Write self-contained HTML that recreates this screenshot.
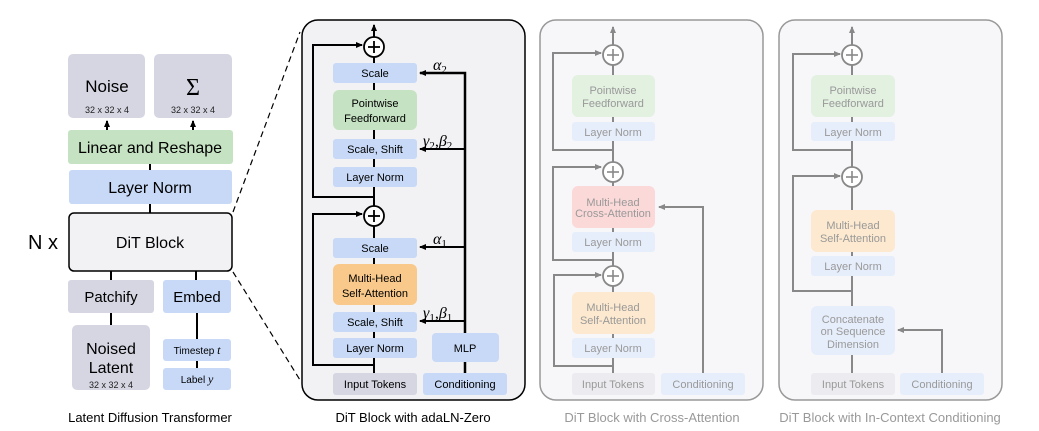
<!DOCTYPE html>
<html><head><meta charset="utf-8"><style>
html,body{margin:0;padding:0;background:#fff;}
svg{display:block;font-family:"Liberation Sans",sans-serif;}
</style></head><body>
<svg width="1039" height="431" viewBox="0 0 1039 431" xmlns="http://www.w3.org/2000/svg">
<defs>
<marker id="ab" markerWidth="8" markerHeight="8" refX="6" refY="4" orient="auto" markerUnits="userSpaceOnUse"><path d="M0,1 L7,4 L0,7 z" fill="#000"/></marker>
<marker id="ag" markerWidth="8" markerHeight="8" refX="6" refY="4" orient="auto" markerUnits="userSpaceOnUse"><path d="M0,1 L7,4 L0,7 z" fill="#888"/></marker>
</defs>

<!-- LEFT -->
<g stroke="#000" stroke-width="2">
<line x1="107" y1="130" x2="107" y2="121" marker-end="url(#ab)"/>
<line x1="193" y1="130" x2="193" y2="121" marker-end="url(#ab)"/>
<line x1="150" y1="164" x2="150" y2="170"/>
<line x1="150" y1="204" x2="150" y2="213"/>
<line x1="111" y1="271" x2="111" y2="280"/>
<line x1="196" y1="271" x2="196" y2="280"/>
<line x1="111" y1="313" x2="111" y2="325"/>
<line x1="197" y1="313" x2="197" y2="339"/>
<line x1="197" y1="361" x2="197" y2="368"/>
</g>
<rect x="68" y="54" width="77" height="64" rx="5" fill="#d5d6e2"/>
<rect x="154" y="54" width="78" height="64" rx="5" fill="#d5d6e2"/>
<text x="107" y="92" font-size="17" text-anchor="middle">Noise</text>
<text x="107" y="113" font-size="9" text-anchor="middle" fill="#222">32 x 32 x 4</text>
<text x="193" y="95" font-size="24" text-anchor="middle" font-family="Liberation Serif,serif">Σ</text>
<text x="193" y="113" font-size="9" text-anchor="middle" fill="#222">32 x 32 x 4</text>
<rect x="68" y="130" width="165" height="34" rx="3" fill="#c5e3c2"/>
<text x="150" y="153" font-size="16" text-anchor="middle">Linear and Reshape</text>
<rect x="69" y="170" width="163" height="34" rx="3" fill="#c7d9f7"/>
<text x="150" y="193" font-size="16" text-anchor="middle">Layer Norm</text>
<rect x="69" y="213" width="163" height="58" rx="5" fill="#f2f2f4" stroke="#000" stroke-width="1.5"/>
<text x="150" y="248" font-size="16" text-anchor="middle">DiT Block</text>
<text x="28" y="249" font-size="20">N x</text>
<rect x="68" y="280" width="86" height="33" rx="3" fill="#d5d6e2"/>
<text x="111" y="302" font-size="15" text-anchor="middle">Patchify</text>
<rect x="163" y="280" width="68" height="33" rx="3" fill="#c7d9f7"/>
<text x="197" y="302" font-size="15" text-anchor="middle">Embed</text>
<rect x="72" y="325" width="78" height="65" rx="5" fill="#d5d6e2"/>
<text x="111" y="354" font-size="16" text-anchor="middle">Noised</text>
<text x="111" y="373" font-size="16" text-anchor="middle">Latent</text>
<text x="111" y="388" font-size="9" text-anchor="middle" fill="#222">32 x 32 x 4</text>
<rect x="163" y="339" width="68" height="22" rx="3" fill="#c7d9f7"/>
<text x="197" y="354" font-size="10" text-anchor="middle">Timestep <tspan font-family="Liberation Serif,serif" font-style="italic" font-size="12">t</tspan></text>
<rect x="163" y="368" width="68" height="22" rx="3" fill="#c7d9f7"/>
<text x="197" y="383" font-size="10" text-anchor="middle">Label <tspan font-family="Liberation Serif,serif" font-style="italic" font-size="12">y</tspan></text>
<text x="150" y="422" font-size="13" text-anchor="middle">Latent Diffusion Transformer</text>
<line x1="233" y1="212" x2="300" y2="32" stroke="#000" stroke-width="1.2" stroke-dasharray="6,4"/>
<line x1="233" y1="272" x2="300" y2="380" stroke="#000" stroke-width="1.2" stroke-dasharray="6,4"/>

<!-- MIDDLE adaLN -->
<rect x="302" y="20" width="223" height="380" rx="16" fill="#f2f2f4" stroke="#000" stroke-width="1.5"/>
<g stroke="#000" stroke-width="2" fill="none">
<line x1="374" y1="37" x2="374" y2="25" marker-end="url(#ab)"/>
<line x1="374" y1="57" x2="374" y2="373"/>
<polyline points="374,197 313,197 313,45 362,45" marker-end="url(#ab)"/>
<polyline points="374,365 313,365 313,214 362,214" marker-end="url(#ab)"/>
<polyline points="465,373 465,73 420,73" stroke-width="2.5" marker-end="url(#ab)"/>
<polyline points="465,149 420,149" marker-end="url(#ab)"/>
<polyline points="465,247 420,247" marker-end="url(#ab)"/>
<polyline points="465,321 420,321" marker-end="url(#ab)"/>
</g>
<g fill="#fff" stroke="#000" stroke-width="1.8">
<circle cx="374" cy="47" r="10"/><circle cx="374" cy="216" r="10"/>
</g>
<g stroke="#000" stroke-width="1.8">
<line x1="368" y1="47" x2="380" y2="47"/><line x1="374" y1="41" x2="374" y2="53"/>
<line x1="368" y1="216" x2="380" y2="216"/><line x1="374" y1="210" x2="374" y2="222"/>
</g>
<g font-size="11" text-anchor="middle">
<rect x="333" y="63" width="84" height="20" rx="3" fill="#c7d9f7"/><text x="375" y="77">Scale</text>
<rect x="333" y="90" width="84" height="40" rx="6" fill="#c5e3c2"/><text x="375" y="107">Pointwise</text><text x="375" y="122">Feedforward</text>
<rect x="333" y="139" width="84" height="20" rx="3" fill="#c7d9f7"/><text x="375" y="153">Scale, Shift</text>
<rect x="333" y="167" width="84" height="20" rx="3" fill="#c7d9f7"/><text x="375" y="181">Layer Norm</text>
<rect x="333" y="238" width="84" height="20" rx="3" fill="#c7d9f7"/><text x="375" y="252">Scale</text>
<rect x="333" y="264" width="84" height="41" rx="6" fill="#f8c98a"/><text x="375" y="282">Multi-Head</text><text x="375" y="297">Self-Attention</text>
<rect x="333" y="312" width="84" height="20" rx="3" fill="#c7d9f7"/><text x="375" y="326">Scale, Shift</text>
<rect x="333" y="338" width="84" height="20" rx="3" fill="#c7d9f7"/><text x="375" y="352">Layer Norm</text>
<rect x="432" y="333" width="67" height="29" rx="4" fill="#c7d9f7"/><text x="465" y="352">MLP</text>
<rect x="333" y="373" width="84" height="22" rx="3" fill="#d5d6e2"/><text x="375" y="388">Input Tokens</text>
<rect x="423" y="373" width="84" height="22" rx="3" fill="#c7d9f7"/><text x="465" y="388">Conditioning</text>
</g>
<g font-family="Liberation Serif,serif" font-style="italic" font-size="16">
<text x="433" y="70">α<tspan font-size="11" dy="3" font-style="normal">2</tspan></text>
<text x="423" y="146">γ<tspan font-size="11" dy="3" font-style="normal">2</tspan><tspan dy="-3">,β</tspan><tspan font-size="11" dy="3" font-style="normal">2</tspan></text>
<text x="433" y="244">α<tspan font-size="11" dy="3" font-style="normal">1</tspan></text>
<text x="423" y="318">γ<tspan font-size="11" dy="3" font-style="normal">1</tspan><tspan dy="-3">,β</tspan><tspan font-size="11" dy="3" font-style="normal">1</tspan></text>
</g>
<text x="413" y="422" font-size="13" text-anchor="middle">DiT Block with adaLN-Zero</text>

<!-- CROSS ATTENTION -->
<rect x="540" y="20" width="223" height="380" rx="16" fill="#f7f7f9" stroke="#999" stroke-width="1.5"/>
<g stroke="#888" stroke-width="2" fill="none">
<line x1="613" y1="45" x2="613" y2="27" marker-end="url(#ag)"/>
<line x1="613" y1="65" x2="613" y2="162"/>
<line x1="613" y1="182" x2="613" y2="266"/>
<line x1="613" y1="286" x2="613" y2="373"/>
<polyline points="613,150 553,150 553,53 601,53" marker-end="url(#ag)"/>
<polyline points="613,260 553,260 553,167 601,167" marker-end="url(#ag)"/>
<polyline points="613,366 554,366 554,275 601,275" marker-end="url(#ag)"/>
<polyline points="703,373 703,207 659,207" marker-end="url(#ag)"/>
</g>
<g fill="#fff" stroke="#888" stroke-width="1.8">
<circle cx="613" cy="55" r="10"/><circle cx="613" cy="172" r="10"/><circle cx="613" cy="276" r="10"/>
</g>
<g stroke="#888" stroke-width="1.6">
<line x1="607" y1="55" x2="619" y2="55"/><line x1="613" y1="49" x2="613" y2="61"/>
<line x1="607" y1="172" x2="619" y2="172"/><line x1="613" y1="166" x2="613" y2="178"/>
<line x1="607" y1="276" x2="619" y2="276"/><line x1="613" y1="270" x2="613" y2="282"/>
</g>
<g font-size="11" text-anchor="middle" fill="#999">
<rect x="572" y="75" width="83" height="42" rx="6" fill="#e3f1e1"/><text x="613" y="94">Pointwise</text><text x="613" y="107">Feedforward</text>
<rect x="572" y="122" width="83" height="19" rx="3" fill="#e7eefb"/><text x="613" y="136">Layer Norm</text>
<rect x="572" y="186" width="83" height="42" rx="6" fill="#fcd9d9"/><text x="613" y="206">Multi-Head</text><text x="613" y="217">Cross-Attention</text>
<rect x="572" y="232" width="83" height="20" rx="3" fill="#e7eefb"/><text x="613" y="246">Layer Norm</text>
<rect x="572" y="292" width="83" height="42" rx="6" fill="#fde9cf"/><text x="613" y="311">Multi-Head</text><text x="613" y="324">Self-Attention</text>
<rect x="572" y="338" width="83" height="20" rx="3" fill="#e7eefb"/><text x="613" y="352">Layer Norm</text>
<rect x="572" y="373" width="83" height="22" rx="3" fill="#ececf0"/><text x="613" y="388">Input Tokens</text>
<rect x="661" y="373" width="84" height="22" rx="3" fill="#e7eefb"/><text x="703" y="388">Conditioning</text>
</g>
<text x="652" y="422" font-size="13" text-anchor="middle" fill="#999">DiT Block with Cross-Attention</text>

<!-- IN-CONTEXT -->
<rect x="779" y="20" width="223" height="380" rx="16" fill="#f7f7f9" stroke="#999" stroke-width="1.5"/>
<g stroke="#888" stroke-width="2" fill="none">
<line x1="852" y1="45" x2="852" y2="27" marker-end="url(#ag)"/>
<line x1="852" y1="65" x2="852" y2="167"/>
<line x1="852" y1="187" x2="852" y2="373"/>
<polyline points="852,150 793,150 793,54 840,54" marker-end="url(#ag)"/>
<polyline points="852,291 793,291 793,176 840,176" marker-end="url(#ag)"/>
<polyline points="942,373 942,330 898,330" marker-end="url(#ag)"/>
</g>
<g fill="#fff" stroke="#888" stroke-width="1.8">
<circle cx="852" cy="55" r="10"/><circle cx="852" cy="177" r="10"/>
</g>
<g stroke="#888" stroke-width="1.6">
<line x1="846" y1="55" x2="858" y2="55"/><line x1="852" y1="49" x2="852" y2="61"/>
<line x1="846" y1="177" x2="858" y2="177"/><line x1="852" y1="171" x2="852" y2="183"/>
</g>
<g font-size="11" text-anchor="middle" fill="#999">
<rect x="811" y="75" width="84" height="42" rx="6" fill="#e3f1e1"/><text x="853" y="94">Pointwise</text><text x="853" y="107">Feedforward</text>
<rect x="811" y="122" width="84" height="19" rx="3" fill="#e7eefb"/><text x="853" y="136">Layer Norm</text>
<rect x="811" y="210" width="84" height="42" rx="6" fill="#fde9cf"/><text x="853" y="229">Multi-Head</text><text x="853" y="242">Self-Attention</text>
<rect x="811" y="256" width="84" height="20" rx="3" fill="#e7eefb"/><text x="853" y="270">Layer Norm</text>
<rect x="811" y="306" width="84" height="49" rx="6" fill="#e7eefb"/><text x="853" y="323">Concatenate</text><text x="853" y="335">on Sequence</text><text x="853" y="348">Dimension</text>
<rect x="811" y="373" width="84" height="22" rx="3" fill="#ececf0"/><text x="853" y="388">Input Tokens</text>
<rect x="900" y="373" width="84" height="22" rx="3" fill="#e7eefb"/><text x="942" y="388">Conditioning</text>
</g>
<text x="890" y="422" font-size="13" text-anchor="middle" fill="#999">DiT Block with In-Context Conditioning</text>
</svg>
</body></html>
